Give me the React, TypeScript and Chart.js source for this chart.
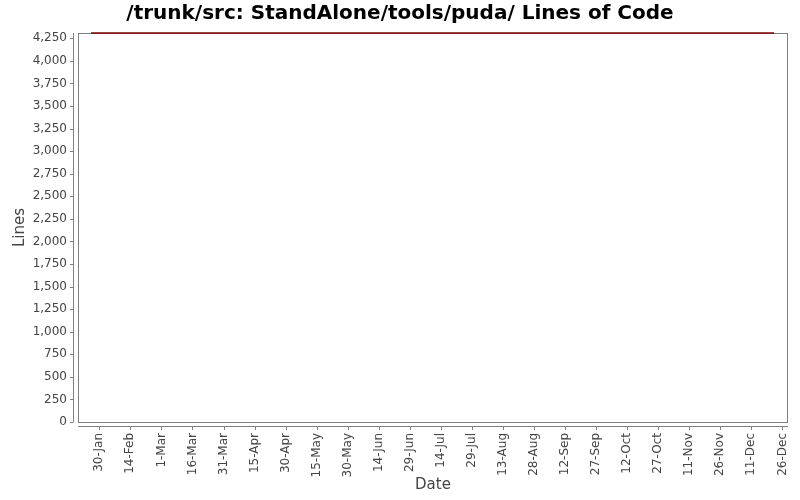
import { useRef, useEffect } from "react";
import { Chart, registerables } from "chart.js";

Chart.register(...registerables);

// day of year (non-leap year) for the commit dates
const commitDays = [26, 356];
const linesOfCode = [4309, 4309];

const xTickDays = [30, 45, 60, 75, 90, 105, 120, 135, 150, 165, 180, 195, 210, 225, 240, 255, 270, 285, 300, 315, 330, 345, 360];
const xTickLabels = [
  "30-Jan", "14-Feb", "1-Mar", "16-Mar", "31-Mar", "15-Apr", "30-Apr", "15-May",
  "30-May", "14-Jun", "29-Jun", "14-Jul", "29-Jul", "13-Aug", "28-Aug", "12-Sep",
  "27-Sep", "12-Oct", "27-Oct", "11-Nov", "26-Nov", "11-Dec", "26-Dec",
];
const yTickValues = [0, 250, 500, 750, 1000, 1250, 1500, 1750, 2000, 2250, 2500, 2750, 3000, 3250, 3500, 3750, 4000, 4250];

const FONT = "'DejaVu Sans', sans-serif";
const AXIS_GREY = "#808080";

const framePlugin = {
  id: "frame",
  beforeDraw(chart: Chart) {
    const { ctx, width, height } = chart;
    ctx.save();
    ctx.fillStyle = "#ffffff";
    ctx.fillRect(0, 0, width, height);
    ctx.restore();
  },
  beforeDatasetsDraw(chart: Chart) {
    const { ctx, chartArea } = chart;
    const { left, right, top, bottom } = chartArea;
    const x = chart.scales.x;
    const y = chart.scales.y;
    ctx.save();
    ctx.strokeStyle = AXIS_GREY;
    ctx.lineWidth = 1;
    // plot outline
    ctx.strokeRect(left + 0.5, top + 0.5, right - left - 1, bottom - top);
    // offset axis lines
    ctx.beginPath();
    ctx.moveTo(left - 4.5, top);
    ctx.lineTo(left - 4.5, bottom);
    ctx.moveTo(left, bottom + 4.5);
    ctx.lineTo(right, bottom + 4.5);
    // tick marks
    yTickValues.forEach((v) => {
      const py = Math.round(y.getPixelForValue(v)) + 0.5;
      ctx.moveTo(left - 8, py);
      ctx.lineTo(left - 4.5, py);
    });
    xTickDays.forEach((d) => {
      const px = Math.round(x.getPixelForValue(d)) + 0.5;
      ctx.moveTo(px, bottom + 4.5);
      ctx.lineTo(px, bottom + 8);
    });
    ctx.stroke();

    // titles
    ctx.fillStyle = "#000000";
    ctx.font = `bold 20px ${FONT}`;
    ctx.textAlign = "center";
    ctx.textBaseline = "middle";
    ctx.fillText("/trunk/src: StandAlone/tools/puda/ Lines of Code", 400, 14);

    ctx.fillStyle = "#444444";
    ctx.font = `15px ${FONT}`;
    ctx.fillText("Date", (left + right) / 2, 485);
    ctx.translate(20, (top + bottom) / 2);
    ctx.rotate(-Math.PI / 2);
    ctx.fillText("Lines", 0, 0);
    ctx.restore();
  },
};

const App = () => {
  const chartRef = useRef<HTMLCanvasElement>(null);
  const chartInstance = useRef<Chart | null>(null);

  useEffect(() => {
    document.body.style.margin = "0";
    if (!chartRef.current) return;

    if (chartInstance.current) {
      chartInstance.current.destroy();
    }

    const ctx = chartRef.current.getContext("2d");
    if (!ctx) return;

    chartInstance.current = new Chart(ctx, {
      type: "line",
      data: {
        datasets: [
          {
            label: "Lines of Code",
            data: commitDays.map((d, i) => ({ x: d, y: linesOfCode[i] })),
            borderColor: "#800000",
            borderWidth: 1.5,
            pointRadius: 0,
            tension: 0,
            fill: false,
            clip: false,
          },
        ],
      },
      options: {
        responsive: false,
        animation: false,
        layout: { padding: { top: 33, right: 12, left: 0, bottom: 0 } },
        plugins: {
          legend: { display: false },
          title: { display: false },
          tooltip: { enabled: false },
        },
        scales: {
          x: {
            type: "linear",
            min: 19.7,
            max: 362.7,
            afterBuildTicks: (scale) => {
              scale.ticks = xTickDays.map((v) => ({ value: v }));
            },
            afterFit: (scale) => {
              scale.height = 78;
              scale.paddingLeft = 0;
              scale.paddingRight = 0;
            },
            grid: { display: false, drawTicks: false },
            border: { display: false },
            ticks: {
              autoSkip: false,
              minRotation: 90,
              maxRotation: 90,
              padding: 11,
              color: "#444444",
              font: { family: FONT, size: 12 },
              callback: (value) => {
                const i = xTickDays.indexOf(Number(value));
                return i >= 0 ? xTickLabels[i] : "";
              },
            },
          },
          y: {
            min: 0,
            max: 4309,
            afterBuildTicks: (scale) => {
              scale.ticks = yTickValues.map((v) => ({ value: v }));
            },
            afterFit: (scale) => {
              scale.width = 78;
              scale.paddingTop = 0;
              scale.paddingBottom = 0;
            },
            grid: { display: false, drawTicks: false },
            border: { display: false },
            ticks: {
              padding: 11,
              color: "#444444",
              font: { family: FONT, size: 12 },
              callback: (value) => Number(value).toLocaleString("en-US"),
            },
          },
        },
      },
      plugins: [framePlugin],
    });

    return () => {
      if (chartInstance.current) {
        chartInstance.current.destroy();
        chartInstance.current = null;
      }
    };
  }, []);

  return (
    <div style={{ position: "absolute", left: 0, top: 0, width: 800, height: 500 }}>
      <canvas
        ref={chartRef}
        width={800}
        height={500}
        aria-label="Lines of code line chart"
        role="img"
      ></canvas>
    </div>
  );
};

export default App;
